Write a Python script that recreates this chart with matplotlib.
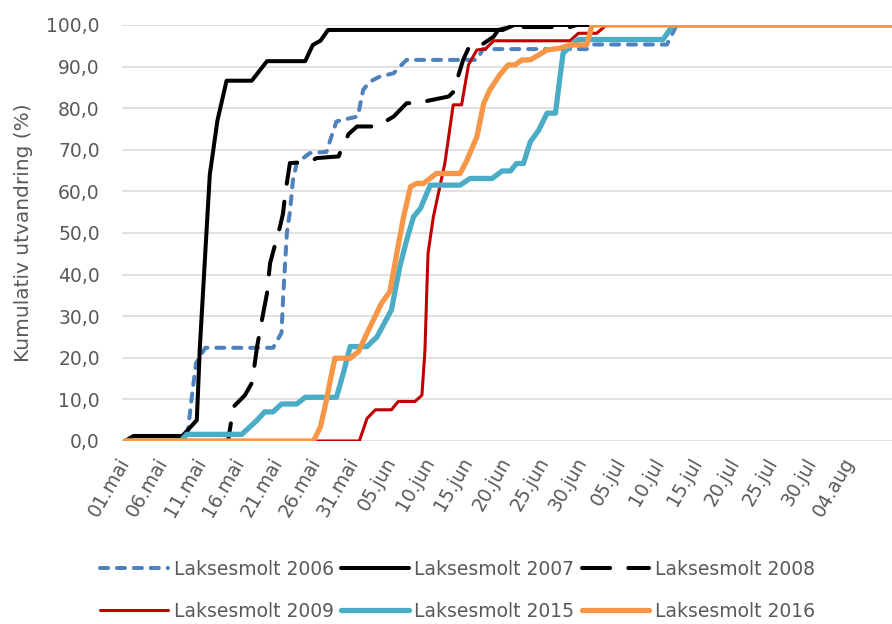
import matplotlib.pyplot as plt

# --- Data: days after 01.mai, cumulative migration (%) ---
DAYS_2006 = [0, 8.1, 8.7, 9.3, 10.5, 19.4, 20.5, 20.7, 21.2, 21.6, 22.0, 22.5, 24.2, 26.4,
             26.9, 27.7, 29.5, 30.5, 31.2, 32.1, 33.4, 35.2, 36.0, 36.9, 46.1, 46.9, 60.5,
             61.2, 71.0, 72.3, 101]
PCT_2006 = [0, 0, 10.0, 18.7, 22.4, 22.4, 26.0, 34.0, 50.0, 55.0, 62.7, 66.8, 69.2, 69.5,
            72.4, 76.8, 77.6, 78.0, 84.4, 86.4, 87.6, 88.4, 90.0, 91.6, 91.6, 94.2, 94.2,
            95.3, 95.3, 100, 100]

DAYS_2007 = [0, 1.1, 7.5, 9.4, 9.8, 11.1, 12.1, 13.3, 16.6, 18.6, 23.6, 24.6, 25.6, 26.6,
             49.5, 51.0, 101]
PCT_2007 = [0, 1.2, 1.2, 5.0, 22.6, 64.0, 77.0, 86.6, 86.6, 91.3, 91.3, 95.2, 96.2, 98.8,
            98.8, 100, 100]

DAYS_2008 = [0, 13.5, 14.2, 15.7, 16.6, 17.0, 17.3, 18.1, 18.6, 19.0, 19.7, 20.3, 20.7,
             21.0, 21.6, 24.2, 25.1, 28.0, 28.2, 29.3, 30.4, 33.0, 35.2, 36.9, 38.2, 40.8,
             42.4, 43.3, 43.5, 44.3, 45.2, 46.7, 48.3, 48.9, 50.5, 58.3, 59.2, 101]
PCT_2008 = [0, 0, 8.2, 11.0, 13.9, 18.7, 22.7, 30.7, 35.5, 42.7, 47.5, 51.5, 54.7, 59.6,
            66.8, 67.1, 68.0, 68.4, 69.5, 73.8, 75.6, 75.6, 78.0, 81.2, 81.2, 82.2, 82.8,
            84.4, 86.8, 91.6, 95.2, 95.2, 97.2, 98.8, 99.5, 99.5, 100, 100]

DAYS_2009 = [0, 30.7, 31.7, 32.8, 34.9, 35.8, 38.0, 38.9, 39.3, 39.5, 39.7, 40.4, 41.9,
             43.0, 44.1, 45.0, 46.1, 47.2, 48.3, 58.3, 59.4, 61.8, 63.1, 101]
PCT_2009 = [0, 0, 5.4, 7.5, 7.5, 9.5, 9.5, 11.0, 21.9, 33.9, 45.1, 53.9, 66.7, 80.8, 80.8,
            90.4, 94.0, 94.2, 96.2, 96.2, 98.0, 98.0, 100, 100]

DAYS_2015 = [0, 7.3, 8.1, 15.3, 17.3, 18.3, 19.4, 20.5, 22.5, 23.6, 27.7, 28.6, 29.5, 31.7,
             33.0, 34.9, 36.0, 36.9, 37.8, 38.7, 40.0, 43.9, 45.2, 48.1, 49.4, 50.5, 51.3,
             52.2, 53.1, 54.2, 55.3, 56.4, 57.0, 57.4, 58.3, 59.4, 70.5, 71.8, 101]
PCT_2015 = [0, 0, 1.6, 1.6, 5.0, 7.0, 7.0, 8.9, 8.9, 10.5, 10.5, 16.3, 22.7, 22.7, 25.0,
            31.5, 41.9, 48.3, 53.9, 55.9, 61.5, 61.5, 63.1, 63.1, 64.9, 64.9, 66.7, 66.7,
            71.9, 74.7, 78.8, 78.8, 87.6, 93.2, 94.8, 96.5, 96.5, 100, 100]

DAYS_2016 = [0, 24.7, 25.6, 26.4, 26.9, 27.5, 29.5, 30.6, 31.7, 33.6, 34.7, 35.6, 36.5,
             37.4, 38.2, 39.1, 40.8, 43.9, 44.8, 46.1, 47.0, 47.8, 49.1, 50.2, 51.1, 52.0,
             53.1, 54.2, 55.3, 57.0, 58.3, 60.5, 61.2, 101]
PCT_2016 = [0, 0, 3.4, 9.9, 14.7, 19.9, 19.9, 21.5, 25.9, 33.1, 35.9, 45.1, 53.9, 61.1,
            61.9, 61.9, 64.3, 64.3, 67.5, 73.1, 81.2, 84.4, 88.0, 90.4, 90.4, 91.6, 91.6,
            92.8, 94.0, 94.4, 95.2, 95.2, 100, 100]

LABELS = ["Laksesmolt 2006", "Laksesmolt 2007", "Laksesmolt 2008",
          "Laksesmolt 2009", "Laksesmolt 2015", "Laksesmolt 2016"]

TICK_DAYS = list(range(0, 96, 5))
TICK_LABELS = ["01.mai", "06.mai", "11.mai", "16.mai", "21.mai", "26.mai", "31.mai",
               "05.jun", "10.jun", "15.jun", "20.jun", "25.jun", "30.jun", "05.jul",
               "10.jul", "15.jul", "20.jul", "25.jul", "30.jul", "04.aug"]
Y_TICKS = list(range(0, 101, 10))

TEXT = "#595959"
plt.rcParams["font.family"] = "DejaVu Sans"

fig = plt.figure(figsize=(8.92, 6.24), dpi=100)
ax = fig.add_axes([0.1368, 0.2933, 0.8632, 0.6667])

series = [
    (DAYS_2006, PCT_2006, dict(color="#4F81BD", lw=2.9, dashes=(2.0, 2.2), dash_capstyle="round")),
    (DAYS_2007, PCT_2007, dict(color="black", lw=2.9)),
    (DAYS_2008, PCT_2008, dict(color="black", lw=2.9, dashes=(7, 4.5), dash_capstyle="round")),
    (DAYS_2009, PCT_2009, dict(color="#C00000", lw=2.2)),
    (DAYS_2015, PCT_2015, dict(color="#4BACC6", lw=3.8)),
    (DAYS_2016, PCT_2016, dict(color="#F79646", lw=3.8)),
]

handles = []
for (xs, ys, style), lab in zip(series, LABELS):
    ln, = ax.plot(xs, ys, solid_capstyle="round", solid_joinstyle="round", label=lab, **style)
    handles.append(ln)

ax.set_xlim(-0.4, 100.5)
ax.set_ylim(0, 100)
ax.set_yticks(Y_TICKS)
ax.set_yticklabels([f"{v:.1f}".replace(".", ",") for v in Y_TICKS])
ax.set_xticks(TICK_DAYS)
ax.set_xticklabels(TICK_LABELS, rotation=60, ha="right", va="center", rotation_mode="anchor")
ax.tick_params(axis="y", length=0, pad=16, labelsize=13.5, labelcolor=TEXT)
ax.tick_params(axis="x", length=0, pad=13, labelsize=13.5, labelcolor=TEXT)

ax.grid(axis="y", color="#D9D9D9", lw=1.1)
ax.set_axisbelow(True)
for s in ax.spines.values():
    s.set_visible(False)

ax.set_ylabel("Kumulativ utvandring (%)", fontsize=14.5, color=TEXT)
ax.yaxis.set_label_coords(-0.115, 0.5)

# legend filled row by row
order = [0, 3, 1, 4, 2, 5]
fig.legend([handles[i] for i in order], [LABELS[i] for i in order],
           loc="center", bbox_to_anchor=(0.513, 0.054), ncol=3, frameon=False,
           fontsize=13.5, handlelength=3.6, handletextpad=0.3, columnspacing=0.4,
           labelspacing=1.25, labelcolor=TEXT)

fig.savefig("out.png", dpi=100)
